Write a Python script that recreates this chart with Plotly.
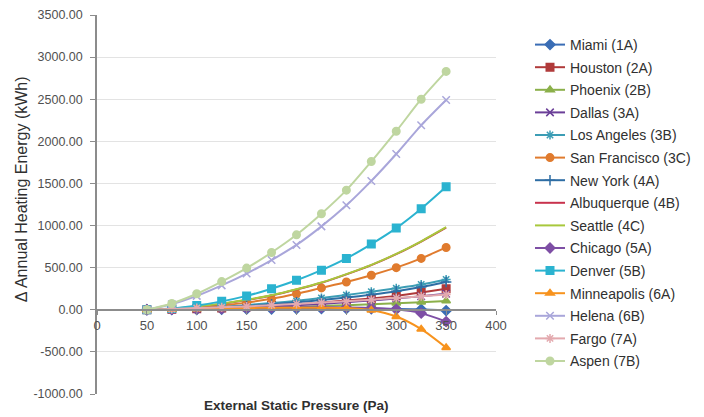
import plotly.graph_objects as go

pressure = [50, 75, 100, 125, 150, 175, 200, 225, 250, 275, 300, 325, 350]

miami = [0, 2, 4, 6, 8, 10, 12, 13, 13, 12, 10, 5, -10]
houston = [0, 5, 12, 22, 35, 50, 65, 85, 110, 135, 165, 205, 250]
phoenix = [0, 3, 8, 14, 20, 28, 35, 45, 55, 65, 78, 90, 105]
dallas = [0, 5, 12, 20, 30, 42, 55, 70, 90, 110, 135, 160, 190]
los_angeles = [0, 8, 20, 35, 55, 80, 105, 140, 175, 215, 255, 300, 360]
san_francisco = [0, 8, 25, 50, 85, 130, 190, 260, 330, 410, 500, 610, 740]
new_york = [0, 6, 15, 30, 45, 65, 90, 115, 145, 180, 220, 270, 330]
albuquerque = [0, 10, 35, 70, 115, 170, 240, 320, 420, 530, 660, 810, 975]
seattle = [0, 12, 38, 73, 118, 173, 243, 323, 423, 533, 663, 813, 980]
chicago = [0, 5, 10, 15, 20, 25, 28, 30, 28, 22, 5, -40, -140]
denver = [0, 15, 50, 100, 165, 250, 350, 470, 610, 780, 970, 1200, 1460]
minneapolis = [0, 5, 10, 15, 20, 25, 25, 25, 20, -5, -80, -230, -450]
helena = [0, 65, 165, 290, 430, 590, 770, 990, 1240, 1530, 1850, 2190, 2490]
fargo = [0, 10, 20, 30, 40, 55, 70, 85, 100, 120, 140, 160, 180]
aspen = [0, 75, 190, 335, 495, 680, 890, 1140, 1420, 1760, 2120, 2500, 2830]

names = ["Miami (1A)", "Houston (2A)", "Phoenix (2B)", "Dallas (3A)", "Los Angeles (3B)",
         "San Francisco (3C)", "New York (4A)", "Albuquerque (4B)", "Seattle (4C)",
         "Chicago (5A)", "Denver (5B)", "Minneapolis (6A)", "Helena (6B)", "Fargo (7A)",
         "Aspen (7B)"]
series = [miami, houston, phoenix, dallas, los_angeles, san_francisco, new_york,
          albuquerque, seattle, chicago, denver, minneapolis, helena, fargo, aspen]
colors = ["#3A6DB5", "#B03A3A", "#8BB04A", "#6B3F98", "#3C9DB5", "#E07B2E", "#2E6DA4",
          "#C8334D", "#A8C83C", "#7E4FA5", "#2BB3D0", "#F7931E", "#A9A6DA", "#E3A9AE",
          "#BFD6A0"]
symbols = ["diamond", "square", "triangle-up", "x-thin-open", "asterisk-open", "circle",
           "cross-thin-open", None, None, "diamond", "square", "triangle-up",
           "x-thin-open", "asterisk-open", "circle"]

yticks = [-1000, -500, 0, 500, 1000, 1500, 2000, 2500, 3000, 3500]
xticks = [0, 50, 100, 150, 200, 250, 300, 350, 400]

fig = go.Figure()
for i, (name, ys, col, sym) in enumerate(zip(names, series, colors, symbols)):
    if sym is None:
        mode = "lines"
        marker = dict()
    else:
        mode = "lines+markers"
        marker = dict(symbol=sym, size=7.5, color=col, line=dict(color=col, width=1.5))
    fig.add_trace(go.Scatter(
        x=pressure, y=ys, name=name, mode=mode, legendgroup=f"g{i}",
        line=dict(color=col, width=2, shape="spline", smoothing=0.8),
        marker=marker,
    ))

# figure sits inside the page body (8 px default margin)
W, H = 696, 409
font_family = "Liberation Sans, Arial, sans-serif"
fig.update_layout(
    width=W, height=H,
    margin=dict(l=89, r=208, t=7, b=23),
    paper_bgcolor="white", plot_bgcolor="white",
    font=dict(family=font_family, color="#404040", size=11),
    showlegend=True,
    legend=dict(
        xref="container", yref="container", x=522 / W, y=1 - 21 / H,
        xanchor="left", yanchor="top", maxheight=400,
        font=dict(size=14, color="#303030", family=font_family),
        tracegroupgap=1.4, itemwidth=30, bgcolor="rgba(0,0,0,0)",
    ),
    xaxis=dict(
        range=[0, 400], tickvals=xticks, ticktext=[str(v) for v in xticks],
        showgrid=False, zeroline=False, showline=True, linecolor="#8C8C8C", linewidth=1.5,
        ticks="outside", ticklen=4, tickcolor="#8C8C8C",
        anchor="free", position=1000 / 4500,
        tickfont=dict(size=13, color="#505050"),
    ),
    yaxis=dict(
        range=[-1000, 3500], tickvals=yticks, ticktext=[f"{v:.2f}" for v in yticks],
        showgrid=True, gridcolor="#E3E3E3", gridwidth=1, zeroline=False,
        showline=True, linecolor="#8C8C8C", linewidth=1.5, automargin=False,
        ticks="outside", ticklen=5, tickcolor="#8C8C8C", ticklabelstandoff=5,
        ticklabeloverflow="allow",
        tickfont=dict(size=12.5, color="#505050"),
    ),
    annotations=[
        dict(text="<b>External Static Pressure (Pa)</b>", xref="paper", yref="paper",
             x=0.5, y=(394 - 405) / 379, showarrow=False, xanchor="center", yanchor="middle",
             font=dict(size=13.5, color="#303030")),
        dict(text="Δ Annual Heating Energy (kWh)", xref="paper", yref="paper",
             x=(21 - 97) / 399, y=0.54, showarrow=False, textangle=-90, xanchor="center",
             yanchor="middle", font=dict(size=16, color="#303030")),
    ],
)

fig.write_html("out.html")
